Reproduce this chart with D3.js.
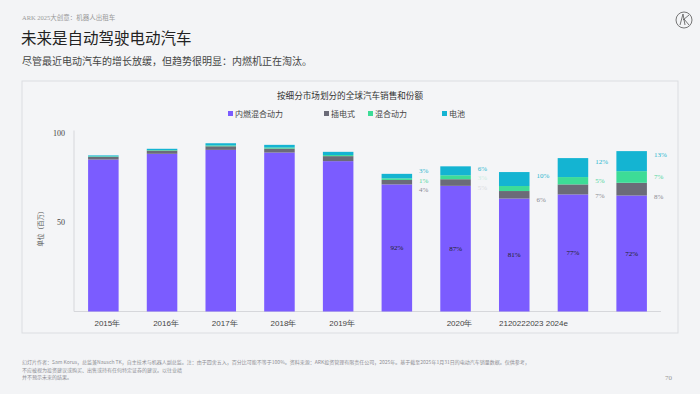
<!DOCTYPE html>
<html><head><meta charset="utf-8">
<script src="https://cdn.jsdelivr.net/npm/d3@7"></script>
<style>
html,body{margin:0;padding:0;background:#f3f4f6;}
svg{display:block;font-family:"Liberation Serif","Noto Sans CJK SC",serif;}
</style></head>
<body><svg id="c" width="700" height="394"></svg>
<script>
const categories = ["2015","2016","2017","2018","2019","2020","2021","2022","2023","2024e"];
const xTickLabels = ["2015年","2016年","2017年","2018年","2019年","","2020年","2120222023 2024e","",""];
const iceValues     = [84.9, 88.1, 90.3, 88.8, 84.0, 71.0, 70.2, 63.1, 65.4, 64.8];
const plugInValues  = [1.5, 1.8, 2.0, 2.2, 2.8, 2.5, 3.7, 4.2, 5.6, 7.1];
const hybridValues  = [0.3, 0.3, 0.5, 0.6, 0.6, 0.9, 2.2, 2.8, 4.1, 6.5];
const batteryValues = [0.5, 0.7, 1.2, 1.5, 1.8, 2.5, 5.0, 7.8, 10.6, 11.2];
const iceShare     = ["","","","","","92%","87%","81%","77%","72%"];
const plugInShare  = ["","","","","","4%","5%","6%","7%","8%"];
const hybridShare  = ["","","","","","1%","3%","","5%","7%"];
const batteryShare = ["","","","","","3%","6%","10%","12%","13%"];
const faintLabels  = ["2021"];
const seriesNames = ["内燃混合动力","插电式","混合动力","电池"];
const yTicks = [50, 100];

const colors = ["#7b5cff","#6b6b78","#3ddc97","#14b4d2"];
const labelColors = ["#222","#8a8a92","#4fd6a0","#2ab5cf"];

const svg = d3.select("#c");

// header
svg.append("text").attr("x",22).attr("y",20).attr("font-size",6.5).attr("fill","#9a9a9a")
  .text("ARK 2025大创意：机器人出租车");
svg.append("text").attr("x",21).attr("y",44).attr("font-size",15.5).attr("fill","#222")
  .attr("font-family","Noto Sans CJK SC").text("未来是自动驾驶电动汽车");
svg.append("text").attr("x",22).attr("y",65).attr("font-size",10).attr("fill","#444")
  .attr("font-family","Noto Sans CJK SC").text("尽管最近电动汽车的增长放缓，但趋势很明显：内燃机正在淘汰。");

// logo
const lg = svg.append("g").attr("transform","translate(684,20)").attr("fill","none").attr("stroke","#555").attr("stroke-width",0.8);
lg.append("circle").attr("r",8);
lg.append("path").attr("d","M-4,5 L-1,-6 M-1,-6 L1,5 M-1,0 L5,-5 M0,-1 L5,5");

// panel
svg.append("rect").attr("x",22).attr("y",81).attr("width",656).attr("height",252)
  .attr("fill","#f4f5f7").attr("stroke","#dcdde1").attr("stroke-width",1);

// chart title
svg.append("text").attr("x",350).attr("y",99).attr("text-anchor","middle").attr("font-size",8.6)
  .attr("fill","#333").text("按细分市场划分的全球汽车销售和份额");

// legend
const legendX = [228, 324, 368, 442];
seriesNames.forEach((n,i)=>{
  const g = svg.append("g").attr("transform",`translate(${legendX[i]},114)`);
  g.append("rect").attr("x",0).attr("y",-3).attr("width",5).attr("height",5).attr("fill",colors[i]);
  g.append("text").attr("x",7).attr("y",0).attr("dy","0.35em").attr("font-size",8).attr("fill","#444").text(n);
});

const x = d3.scaleBand().domain(categories).range([74,661]).paddingInner(0.48).paddingOuter(0.24);
const y = d3.scaleLinear().domain([0,100]).range([311.5,132.5]);

// y axis
const yAx = svg.append("g").attr("transform","translate(74,0)")
  .call(d3.axisLeft(y).tickValues(yTicks).tickSize(0).tickPadding(9).tickFormat(d3.format("d")));
yAx.select(".domain").attr("stroke","#d6d7db").attr("d",`M0,${y(0)}V${y(100)-2}`);
yAx.selectAll("text").attr("font-size",8).attr("fill","#444").attr("font-family","Liberation Serif");

svg.append("text").attr("transform",`translate(41,227) rotate(-90)`).attr("text-anchor","middle")
  .attr("font-size",6.5).attr("fill","#555").attr("dy","0.35em").text("单位（百万）");

// x axis
const xAx = svg.append("g").attr("transform",`translate(0,${y(0)})`)
  .call(d3.axisBottom(x).tickSize(0).tickPadding(9).tickFormat((d,i)=>xTickLabels[i]));
xAx.select(".domain").attr("stroke","#d6d7db").attr("d",`M74,0H661`);
xAx.selectAll("text").attr("font-size",8).attr("fill","#444").attr("dx",4)
  .each(function(d,i){ if(i===7){ d3.select(this).attr("text-anchor","start").attr("x",-x.bandwidth()/2).attr("dx",0); } });

// stacked data
const rows = categories.map((c,i)=>({cat:c, s0:iceValues[i], s1:plugInValues[i], s2:hybridValues[i], s3:batteryValues[i]}));
const stack = d3.stack().keys(["s0","s1","s2","s3"])(rows);

svg.append("g").selectAll("g").data(stack).join("g").attr("fill",(d,i)=>colors[i])
  .selectAll("rect").data(d=>d).join("rect")
  .attr("x",d=>x(d.data.cat)).attr("width",x.bandwidth())
  .attr("y",d=>y(d[1])).attr("height",d=>y(d[0])-y(d[1]));

// labels
const lbl = svg.append("g").attr("font-size",7).attr("font-family","Liberation Serif");
categories.forEach((c,i)=>{
  const faint = faintLabels.includes(c) ? 0.25 : 1;
  // ICE label in middle of purple segment
  if(iceShare[i]){
    lbl.append("text").attr("x",x(c)+x.bandwidth()/2).attr("y",(y(stack[0][i][0])+y(stack[0][i][1]))/2)
      .attr("text-anchor","middle").attr("dy","0.35em").attr("fill",labelColors[0]).text(iceShare[i]);
  }
  // side labels: battery, hybrid, plug-in (top to bottom)
  const items = [
    {t:batteryShare[i], ci:3, y:y(stack[3][i][1])+3, op:1},
    {t:hybridShare[i], ci:2, y:(y(stack[2][i][0])+y(stack[2][i][1]))/2, op:faint},
    {t:plugInShare[i], ci:1, y:y(stack[1][i][0])+1, op:faint}
  ].filter(d=>d.t);
  const gap = 9.5;
  for(let k=0;k<6;k++){
    for(let j=1;j<items.length;j++){
      const ov = gap-(items[j].y-items[j-1].y);
      if(ov>0){ items[j-1].y-=ov/2; items[j].y+=ov/2; }
    }
  }
  items.forEach(it=>{
    lbl.append("text").attr("x",x(c)+x.bandwidth()+7).attr("y",it.y).attr("dy","0.35em")
      .attr("fill",labelColors[it.ci]).attr("opacity",it.op).text(it.t);
  });
});

// footer
const foot = ["幻灯片作者：Sam Korus，总监兼Nausch TK，自主技术与机器人副总监。注：由于四舍五入，百分比可能不等于100%。资料来源：ARK投资管理有限责任公司，2025年。基于截至2025年1月31日的电动汽车销量数据。仅供参考，",
  "不应被视为投资建议或购买、出售或持有任何特定证券的建议。以往业绩",
  "并不预示未来的结果。"];
foot.forEach((t,i)=>svg.append("text").attr("x",22).attr("y",364+i*7.5).attr("font-size",5)
  .attr("fill","#8f8f95").attr("font-family","Noto Sans CJK SC").text(t));
svg.append("text").attr("x",672).attr("y",380).attr("text-anchor","end").attr("font-size",7).attr("fill","#999").text("70");
</script></body></html>
